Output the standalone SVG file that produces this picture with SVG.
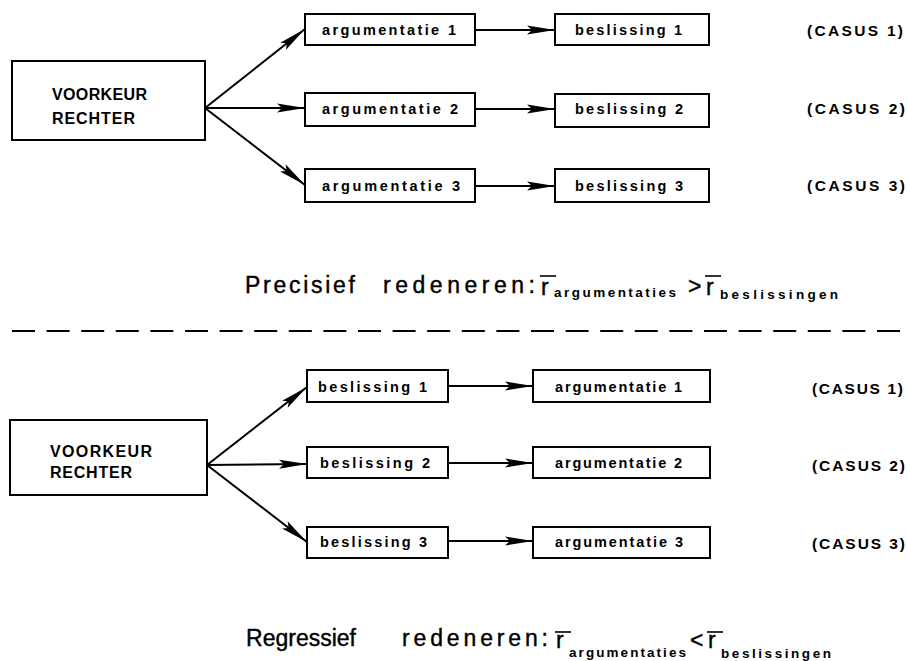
<svg xmlns="http://www.w3.org/2000/svg" width="907" height="661" viewBox="0 0 907 661">
<style>
.box{fill:#fff;stroke:#000;stroke-width:2}
.lbl{font-family:"Liberation Sans",Arial,sans-serif;font-weight:bold;font-size:14.5px;fill:#000}
.big{font-family:"Liberation Sans",Arial,sans-serif;font-weight:bold;font-size:16px;fill:#000}
.cas{font-family:"Liberation Sans",Arial,sans-serif;font-weight:bold;font-size:15.5px;fill:#000}
.title{font-family:"Liberation Sans",Arial,sans-serif;font-size:23px;fill:#000;stroke:#000;stroke-width:0.4}
.sub{font-family:"Liberation Sans",Arial,sans-serif;font-weight:bold;font-size:13.5px;fill:#000}
.conn{stroke:#000;stroke-width:2;fill:none;marker-end:url(#ah)}
.bar{stroke:#000;stroke-width:1.6}
</style>
<defs>
<marker id="ah" markerUnits="userSpaceOnUse" markerWidth="30" markerHeight="10" refX="28" refY="5" orient="auto">
<path d="M0,0.5 L28,5 L0,9.5 L5,5 Z" fill="#000"/>
</marker>
</defs>

<!-- top section -->
<g id="top-voorkeur">
<rect class="box" x="12" y="61" width="193" height="79"/>
<text class="big" x="52" y="100" textLength="95">VOORKEUR</text>
<text class="big" x="52" y="124" textLength="83">RECHTER</text>
</g>
<g id="top-arg1"><rect class="box" x="305" y="14" width="170" height="31"/><text class="lbl" x="322" y="35" textLength="134">argumentatie 1</text></g>
<g id="top-arg2"><rect class="box" x="305" y="93" width="170" height="33"/><text class="lbl" x="322" y="114" textLength="136">argumentatie 2</text></g>
<g id="top-arg3"><rect class="box" x="305" y="169" width="170" height="33"/><text class="lbl" x="322" y="191" textLength="138">argumentatie 3</text></g>
<g id="top-bes1"><rect class="box" x="555" y="14" width="154" height="31"/><text class="lbl" x="575" y="35" textLength="107">beslissing 1</text></g>
<g id="top-bes2"><rect class="box" x="555" y="94" width="154" height="33"/><text class="lbl" x="575" y="114" textLength="108">beslissing 2</text></g>
<g id="top-bes3"><rect class="box" x="555" y="169" width="154" height="33"/><text class="lbl" x="575" y="191" textLength="108">beslissing 3</text></g>
<g id="top-casus1"><text class="cas" x="807" y="36" textLength="96">(CASUS 1)</text></g>
<g id="top-casus2"><text class="cas" x="807" y="114" textLength="98">(CASUS 2)</text></g>
<g id="top-casus3"><text class="cas" x="807" y="191" textLength="98">(CASUS 3)</text></g>

<!-- bottom section -->
<g id="bot-voorkeur">
<rect class="box" x="10" y="420" width="197" height="75"/>
<text class="big" x="50" y="457" textLength="102">VOORKEUR</text>
<text class="big" x="50" y="478" textLength="82">RECHTER</text>
</g>
<g id="bot-bes1"><rect class="box" x="307" y="370" width="141" height="32"/><text class="lbl" x="318" y="392" textLength="109">beslissing 1</text></g>
<g id="bot-bes2"><rect class="box" x="307" y="447" width="141" height="31"/><text class="lbl" x="320" y="468" textLength="110">beslissing 2</text></g>
<g id="bot-bes3"><rect class="box" x="307" y="527" width="141" height="31"/><text class="lbl" x="320" y="547" textLength="107">beslissing 3</text></g>
<g id="bot-arg1"><rect class="box" x="533" y="370" width="177" height="32"/><text class="lbl" x="555" y="392" textLength="127">argumentatie 1</text></g>
<g id="bot-arg2"><rect class="box" x="533" y="447" width="177" height="31"/><text class="lbl" x="555" y="468" textLength="127">argumentatie 2</text></g>
<g id="bot-arg3"><rect class="box" x="533" y="527" width="177" height="31"/><text class="lbl" x="555" y="547" textLength="128">argumentatie 3</text></g>
<g id="bot-casus1"><text class="cas" x="812" y="394" textLength="91">(CASUS 1)</text></g>
<g id="bot-casus2"><text class="cas" x="812" y="471" textLength="93">(CASUS 2)</text></g>
<g id="bot-casus3"><text class="cas" x="812" y="549" textLength="93">(CASUS 3)</text></g>

<g id="connectors">
<line class="conn" x1="205" y1="108" x2="305" y2="29"/>
<line class="conn" x1="205" y1="108" x2="305" y2="108"/>
<line class="conn" x1="205" y1="108" x2="305" y2="185"/>
<line class="conn" x1="475" y1="30" x2="555" y2="30"/>
<line class="conn" x1="475" y1="109" x2="555" y2="109"/>
<line class="conn" x1="475" y1="186" x2="555" y2="186"/>
<line class="conn" x1="207" y1="465" x2="307" y2="387"/>
<line class="conn" x1="207" y1="465" x2="307" y2="464"/>
<line class="conn" x1="207" y1="465" x2="307" y2="542"/>
<line class="conn" x1="448" y1="386" x2="533" y2="386"/>
<line class="conn" x1="448" y1="463" x2="533" y2="463"/>
<line class="conn" x1="448" y1="541" x2="533" y2="541"/>
</g>

<!-- titles -->
<g id="title-top">
<text class="title" x="245" y="293" textLength="110">Precisief</text>
<text class="title" x="383" y="293" textLength="152">redeneren:</text>
<text class="title" x="541" y="295">r</text>
<line class="bar" x1="540" y1="276" x2="556" y2="276"/>
<text class="sub" x="554" y="297" textLength="122">argumentaties</text>
<text class="title" x="688" y="294">&gt;</text>
<text class="title" x="706" y="295">r</text>
<line class="bar" x1="705" y1="276" x2="721" y2="276"/>
<text class="sub" x="720" y="299" textLength="118">beslissingen</text>
</g>
<line x1="12" y1="331" x2="907" y2="331" stroke="#000" stroke-width="2" stroke-dasharray="23 11.6"/>
<g id="title-bottom">
<text class="title" x="246" y="646" textLength="110">Regressief</text>
<text class="title" x="402" y="646" textLength="146">redeneren:</text>
<text class="title" x="556" y="648">r</text>
<line class="bar" x1="555" y1="632" x2="571" y2="632"/>
<text class="sub" x="569" y="657" textLength="117">argumentaties</text>
<text class="title" x="690" y="648">&lt;</text>
<text class="title" x="708" y="648">r</text>
<line class="bar" x1="707" y1="632" x2="723" y2="632"/>
<text class="sub" x="721" y="658" textLength="110">beslissingen</text>
</g>
</svg>
